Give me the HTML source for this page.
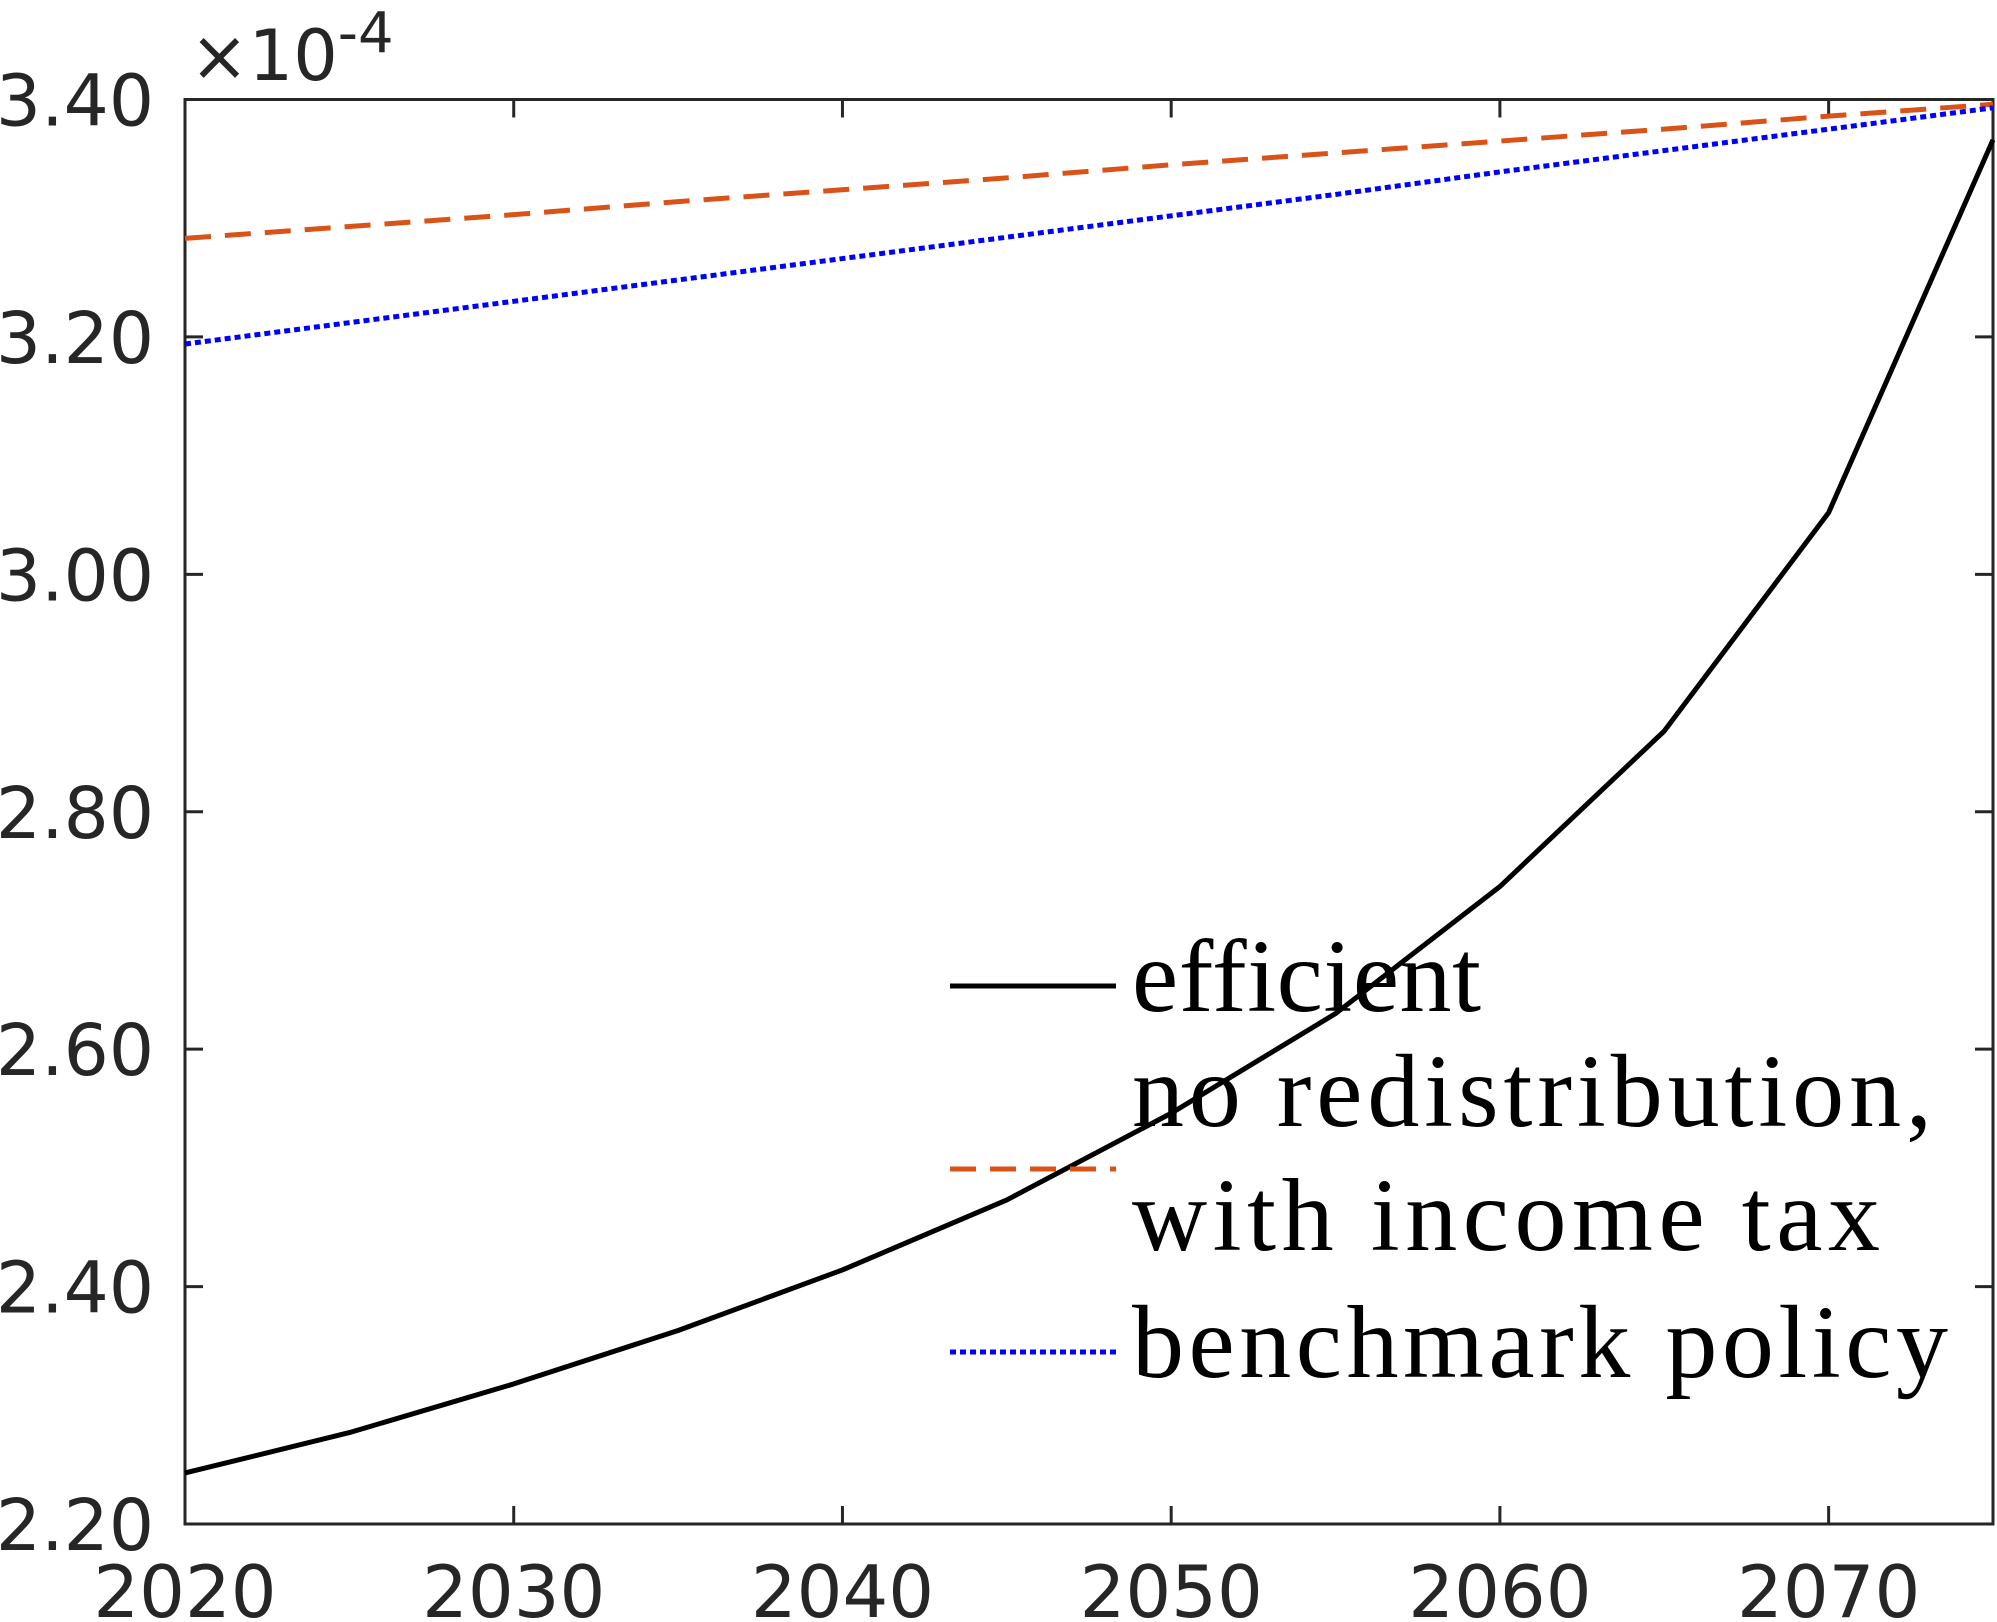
<!DOCTYPE html>
<html><head><meta charset="utf-8"><style>body{margin:0;background:#fff}svg{display:block}</style></head>
<body>
<svg id="chart" width="1997" height="1622" xmlns="http://www.w3.org/2000/svg"></svg>
<script>
const years=[2020,2025,2030,2035,2040,2045,2050,2055,2060,2065,2070,2075];
const efficient=[2.243,2.277,2.318,2.363,2.414,2.473,2.546,2.630,2.737,2.868,3.052,3.366];
const noRedistribution=[3.283,3.293,3.303,3.314,3.324,3.334,3.345,3.355,3.365,3.375,3.386,3.396];
const benchmark=[3.194,3.212,3.230,3.248,3.266,3.284,3.302,3.320,3.339,3.357,3.375,3.393];
const xTicks=[2020,2030,2040,2050,2060,2070];
const yTicks=[2.2,2.4,2.6,2.8,3.0,3.2,3.4];
const L=185,R=1993,T=99.5,B=1524;
const xS=v=>L+(v-2020)/(2075-2020)*(R-L);
const yS=v=>B-(v-2.2)/(3.4-2.2)*(B-T);
const svg=document.getElementById('chart');
const NS='http://www.w3.org/2000/svg';
function mk(tag,at,parent){const e=document.createElementNS(NS,tag);for(const k in at)e.setAttribute(k,at[k]);(parent||svg).appendChild(e);return e;}
let e;
e=mk('rect',{x:L,y:T,width:R-L,height:B-T,fill:'none',stroke:'#262626','stroke-width':3});


xTicks.forEach(t=>{const x=xS(t);
 e=mk('line',{x1:x,x2:x,y1:B,y2:B-18,stroke:'#262626','stroke-width':3});
 
 
 e=mk('line',{x1:x,x2:x,y1:T,y2:T+18,stroke:'#262626','stroke-width':3});
 
 
 e=mk('text',{x:x,y:1617,'text-anchor':'middle','font-family':'DejaVu Sans, sans-serif','font-size':72,fill:'#262626'});e.textContent=t;
 
 
});
yTicks.forEach(t=>{const y=yS(t);
 e=mk('line',{x1:L,x2:L+18,y1:y,y2:y,stroke:'#262626','stroke-width':3});
 
 
 e=mk('line',{x1:R,x2:R-18,y1:y,y2:y,stroke:'#262626','stroke-width':3});
 
 
 e=mk('text',{x:154,y:y+26,'text-anchor':'end','font-family':'DejaVu Sans, sans-serif','font-size':71,fill:'#262626'});e.textContent=t.toFixed(2);
 
 
});
e=mk('text',{x:190,y:80,'font-family':'DejaVu Sans, sans-serif','font-size':70,fill:'#262626'});
e.innerHTML='×10<tspan dy="-28" font-size="56">-4</tspan>';


function series(vals,color,dash,name){
 e=mk('polyline',{points:vals.map((v,i)=>xS(years[i])+','+yS(v)).join(' '),fill:'none',stroke:color,'stroke-width':5,'stroke-dasharray':dash,'stroke-linejoin':'round'});
 
 
}
series(efficient,'#000','none','efficient-line');
series(noRedistribution,'#D95319','26 14','no-redistribution-line');
series(benchmark,'#0000FF','6 4','benchmark-line');
const lg=mk('g',{});


const sf={'font-family':'Liberation Serif, serif','font-size':104,fill:'#000',lengthAdjust:'spacing'};
e=mk('line',{x1:950,x2:1116,y1:986,y2:986,stroke:'#000','stroke-width':5},lg);


e=mk('text',Object.assign({x:1132,y:1011,textLength:349},sf),lg);e.textContent='efficient';


e=mk('line',{x1:950,x2:1116,y1:1169,y2:1169,stroke:'#D95319','stroke-width':5,'stroke-dasharray':'26 14'},lg);


e=mk('text',Object.assign({x:1132,y:1126,textLength:800},sf),lg);e.textContent='no redistribution,';


e=mk('text',Object.assign({x:1132,y:1250,textLength:748},sf),lg);e.textContent='with income tax';


e=mk('line',{x1:950,x2:1116,y1:1352,y2:1352,stroke:'#0000FF','stroke-width':5,'stroke-dasharray':'6 4'},lg);


e=mk('text',Object.assign({x:1132,y:1377,textLength:816},sf),lg);e.textContent='benchmark policy';


</script>
</body></html>
